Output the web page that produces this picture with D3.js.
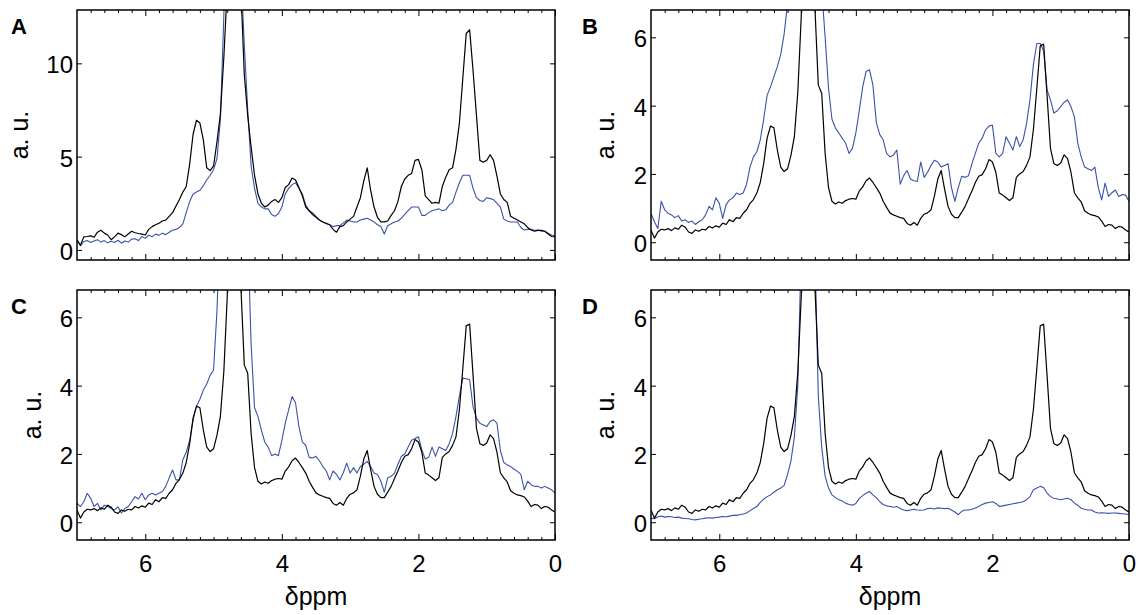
<!DOCTYPE html>
<html>
<head>
<meta charset="utf-8">
<script src="https://cdn.jsdelivr.net/npm/d3@7"></script>
<style>
body { margin: 0; background: #fff; }
text { font-family: "Liberation Sans", Arial, sans-serif; }
</style>
</head>
<body>
<script>
// chemical shift grid (ppm), shared by every trace
var ppm = [
  7.00,6.95,6.90,6.85,6.80,6.75,6.70,6.65,6.60,6.55,
  6.50,6.45,6.40,6.35,6.30,6.25,6.20,6.15,6.10,6.05,
  6.00,5.95,5.90,5.85,5.80,5.75,5.70,5.65,5.60,5.55,
  5.50,5.45,5.40,5.35,5.30,5.25,5.20,5.15,5.10,5.05,
  5.00,4.95,4.90,4.85,4.80,4.75,4.70,4.65,4.60,4.55,
  4.50,4.45,4.40,4.35,4.30,4.25,4.20,4.15,4.10,4.05,
  4.00,3.95,3.90,3.85,3.80,3.75,3.70,3.65,3.60,3.55,
  3.50,3.45,3.40,3.35,3.30,3.25,3.20,3.15,3.10,3.05,
  3.00,2.95,2.90,2.85,2.80,2.75,2.70,2.65,2.60,2.55,
  2.50,2.45,2.40,2.35,2.30,2.25,2.20,2.15,2.10,2.05,
  2.00,1.95,1.90,1.85,1.80,1.75,1.70,1.65,1.60,1.55,
  1.50,1.45,1.40,1.35,1.30,1.25,1.20,1.15,1.10,1.05,
  1.00,0.95,0.90,0.85,0.80,0.75,0.70,0.65,0.60,0.55,
  0.50,0.45,0.40,0.35,0.30,0.25,0.20,0.15,0.10,0.05,
  0.00
];

// panel A, black trace
var blackA = [
  0.54,0.25,0.70,0.72,0.75,0.68,0.95,1.05,0.90,0.80,
  0.55,0.70,0.90,0.82,0.70,0.85,1.00,0.92,0.88,0.85,
  0.80,1.10,1.25,1.35,1.43,1.55,1.60,1.80,2.00,2.35,
  2.70,3.10,3.40,4.60,6.20,6.95,6.80,5.90,4.40,4.25,
  4.50,5.80,7.30,10.3,14,25,40,25,14,9.4,
  7.20,5.50,4.00,3.00,2.50,2.30,2.40,2.60,2.70,2.55,
  2.80,3.35,3.50,3.85,3.75,3.35,2.90,2.30,2.10,1.90,
  1.75,1.60,1.50,1.43,1.35,1.10,0.95,1.25,1.30,1.50,
  1.65,1.80,2.30,2.80,3.70,4.40,3.20,2.30,1.75,1.50,
  1.50,1.55,1.85,2.10,2.60,3.40,3.80,4.00,4.10,4.80,
  4.85,4.30,2.90,2.70,2.50,2.55,2.50,3.40,3.90,4.30,
  4.40,5.40,6.80,9.20,11.6,11.8,9.60,7.20,4.80,4.70,
  4.80,5.10,4.80,3.95,3.00,2.70,2.55,1.80,1.70,1.60,
  1.50,1.40,1.20,1.07,1.00,1.05,1.05,1.00,0.85,0.72,
  0.70
];

// panel A, blue trace
var blueA = [
  0.54,0.22,0.45,0.50,0.40,0.48,0.55,0.42,0.50,0.38,
  0.46,0.40,0.52,0.36,0.48,0.42,0.58,0.60,0.50,0.72,
  0.62,0.80,0.70,0.85,0.78,0.90,0.82,0.95,1.05,1.10,
  1.20,1.40,2.00,2.60,3.00,3.10,3.20,3.45,3.75,4.00,
  4.30,4.90,7.00,12.5,20,30,40,25,15,11,
  7.50,4.50,3.30,2.50,2.30,2.20,2.20,1.90,1.80,1.95,
  2.30,3.00,3.30,3.50,3.60,3.30,3.00,2.40,2.10,2.00,
  1.80,1.60,1.50,1.40,1.35,1.25,1.30,1.30,1.45,1.60,
  1.55,1.50,1.50,1.60,1.65,1.70,1.60,1.50,1.35,1.25,
  0.85,1.30,1.40,1.50,1.55,1.70,1.90,2.10,2.30,2.30,
  2.30,1.85,1.85,2.00,2.10,2.15,2.20,2.10,2.15,2.40,
  2.55,3.10,3.60,4.00,4.00,4.00,3.30,2.80,2.65,2.60,
  2.80,2.75,2.70,2.50,2.30,1.65,1.55,1.50,1.50,1.50,
  1.20,1.07,1.10,1.10,1.05,1.07,1.00,1.00,0.90,0.80,
  0.75
];

// black reference trace, the same in panels B, C and D
var blackRef = [
  0.36,0.12,0.30,0.38,0.36,0.40,0.34,0.42,0.38,0.50,
  0.44,0.30,0.26,0.36,0.32,0.38,0.36,0.46,0.42,0.48,
  0.44,0.56,0.52,0.66,0.60,0.72,0.70,0.85,0.95,1.14,
  1.25,1.44,1.75,2.30,3.05,3.40,3.35,2.70,2.20,2.07,
  2.15,2.55,3.10,4.40,6.60,12,20,12,6.9,4.6,
  4.36,2.60,1.60,1.20,1.12,1.18,1.14,1.22,1.26,1.28,
  1.26,1.50,1.62,1.80,1.88,1.75,1.60,1.44,1.20,1.02,
  0.86,0.80,0.76,0.72,0.70,0.55,0.50,0.58,0.50,0.70,
  0.82,0.86,0.95,1.35,1.85,2.10,1.55,1.05,0.82,0.72,
  0.72,0.88,1.05,1.28,1.50,1.75,1.93,1.98,2.15,2.42,
  2.35,2.05,1.44,1.38,1.30,1.22,1.30,1.90,2.00,2.07,
  2.25,2.50,3.30,4.50,5.75,5.80,4.30,2.75,2.30,2.25,
  2.32,2.56,2.45,2.05,1.45,1.30,1.18,0.92,0.85,0.80,
  0.78,0.74,0.62,0.46,0.52,0.50,0.40,0.46,0.44,0.36,
  0.30
];

// panel B, blue trace
var blueB = [
  0.85,0.60,0.40,1.20,0.95,0.85,0.80,0.72,0.78,0.62,
  0.66,0.58,0.62,0.52,0.60,0.66,0.80,1.05,0.95,1.30,
  1.14,0.70,1.10,1.24,1.30,1.44,1.40,1.44,1.70,2.20,
  2.50,2.65,3.00,3.60,4.30,4.55,4.85,5.14,5.50,6.10,
  7.00,10,15,20,30,40,30,20,12,9,
  7.40,6.00,4.50,3.60,3.35,3.20,3.05,2.90,2.60,2.75,
  3.20,3.85,4.55,5.00,5.05,4.60,3.50,3.15,3.00,2.60,
  2.50,2.55,2.70,1.70,1.95,2.10,1.85,1.80,1.78,2.35,
  1.90,2.05,2.25,2.40,2.35,2.20,2.25,2.30,1.60,1.20,
  1.60,1.93,1.90,1.95,2.30,2.60,2.90,3.05,3.29,3.40,
  3.43,2.60,2.50,2.60,3.09,2.90,2.70,3.09,2.80,3.00,
  3.48,4.17,5.20,5.82,5.82,5.60,4.46,4.17,3.78,3.85,
  3.97,4.10,4.17,3.97,3.68,2.90,2.50,2.20,2.15,2.10,
  2.20,1.60,1.24,1.73,1.34,1.45,1.53,1.34,1.40,1.38,
  1.20
];

// panel C, blue trace
var blueC = [
  0.56,0.46,0.60,0.85,0.70,0.46,0.55,0.36,0.50,0.46,
  0.40,0.36,0.45,0.27,0.40,0.46,0.60,0.75,0.68,0.85,
  0.66,0.80,0.85,0.80,0.85,0.90,1.05,1.30,1.53,1.24,
  1.24,1.83,2.05,2.40,3.00,3.40,3.60,3.87,4.05,4.30,
  4.46,6.20,9,15,25,40,30,20,15,10,
  8.50,5.20,3.35,3.10,2.70,2.35,2.20,1.95,2.00,1.95,
  2.40,2.90,3.30,3.68,3.50,2.80,2.35,2.25,1.90,1.88,
  1.93,1.80,1.63,1.50,1.24,1.50,1.40,1.24,1.45,1.73,
  1.44,1.60,1.44,1.63,1.70,1.78,1.63,1.44,1.40,1.20,
  0.88,1.30,1.34,1.44,1.70,1.93,2.00,2.20,2.40,2.45,
  2.50,2.12,1.85,1.90,2.20,1.93,2.20,2.15,2.10,2.30,
  2.60,3.10,3.70,4.22,4.20,4.17,3.38,3.05,2.90,2.85,
  2.80,2.95,3.00,2.90,2.10,1.75,1.68,1.63,1.55,1.49,
  1.40,0.95,1.20,1.10,1.05,1.05,1.00,1.05,1.00,0.95,
  0.85
];

// panel D, blue trace
var blueD = [
  0.12,0.10,0.16,0.18,0.15,0.17,0.16,0.14,0.15,0.12,
  0.11,0.10,0.08,0.07,0.09,0.10,0.12,0.13,0.12,0.14,
  0.15,0.17,0.16,0.18,0.20,0.20,0.22,0.24,0.27,0.34,
  0.40,0.46,0.58,0.68,0.75,0.80,0.88,0.95,1.00,1.08,
  1.40,1.80,2.50,4.00,8,20,40,20,8,3.7,
  2.20,1.35,1.00,0.80,0.72,0.66,0.62,0.56,0.52,0.50,
  0.55,0.70,0.78,0.85,0.90,0.80,0.72,0.60,0.52,0.48,
  0.46,0.44,0.46,0.40,0.36,0.34,0.36,0.38,0.36,0.35,
  0.36,0.40,0.41,0.39,0.42,0.41,0.40,0.41,0.36,0.30,
  0.22,0.32,0.36,0.36,0.38,0.42,0.46,0.52,0.56,0.58,
  0.60,0.55,0.46,0.48,0.50,0.52,0.54,0.56,0.58,0.60,
  0.66,0.75,0.95,1.00,1.05,1.02,0.85,0.75,0.70,0.68,
  0.66,0.68,0.70,0.66,0.56,0.50,0.41,0.38,0.36,0.36,
  0.30,0.27,0.28,0.27,0.26,0.27,0.27,0.26,0.25,0.24,
  0.22
];

var xMajorTicks = [6, 4, 2, 0];
var yTicksA = [0, 5, 10];
var yTicksBCD = [0, 2, 4, 6];

var blueColor = "#3a52a8";

var svg = d3.select(document.body).append("svg")
  .attr("width", 1141)
  .attr("height", 615);

var panels = [
  {id: "A", left: 77, right: 555, top: 10, bottom: 260, yDomain: [-0.54, 12.86], yTicks: yTicksA,
   black: blackA, blue: blueA, labelX: 28, letterX: 11, xLabels: false},
  {id: "B", left: 651, right: 1129, top: 10, bottom: 260, yDomain: [-0.52, 6.8], yTicks: yTicksBCD,
   black: blackRef, blue: blueB, labelX: 614, letterX: 582, xLabels: false},
  {id: "C", left: 77, right: 555, top: 290, bottom: 540, yDomain: [-0.52, 6.8], yTicks: yTicksBCD,
   black: blackRef, blue: blueC, labelX: 41, letterX: 11, xLabels: true},
  {id: "D", left: 651, right: 1129, top: 290, bottom: 540, yDomain: [-0.52, 6.8], yTicks: yTicksBCD,
   black: blackRef, blue: blueD, labelX: 614, letterX: 582, xLabels: true}
];

// minor x ticks every 0.2 ppm, skipping the labelled even values
var xMinorTicks = d3.range(1, 35).map(function(k) { return k * 0.2; })
  .filter(function(v) { return Math.abs(v / 2 - Math.round(v / 2)) > 0.01; });

function styleAxis(g) {
  g.select(".domain").remove();
  g.selectAll("line").attr("stroke", "#000").attr("stroke-width", 1);
  g.attr("font-size", 24).attr("font-family", "\"Liberation Sans\", Arial, sans-serif");
}

panels.forEach(function(p) {
  var x = d3.scaleLinear().domain([7, 0]).range([p.left, p.right]);
  var y = d3.scaleLinear().domain(p.yDomain).range([p.bottom, p.top]);
  var g = svg.append("g");

  g.append("clipPath").attr("id", "clip" + p.id)
    .append("rect")
    .attr("x", p.left).attr("y", p.top)
    .attr("width", p.right - p.left).attr("height", p.bottom - p.top);

  var line = d3.line()
    .x(function(d, k) { return x(ppm[k]); })
    .y(function(d) { return y(d); });

  g.append("path")
    .datum(p.blue)
    .attr("d", line)
    .attr("fill", "none")
    .attr("stroke", blueColor)
    .attr("stroke-width", 1.1)
    .attr("stroke-linejoin", "round")
    .attr("clip-path", "url(#clip" + p.id + ")");

  g.append("path")
    .datum(p.black)
    .attr("d", line)
    .attr("fill", "none")
    .attr("stroke", "#000")
    .attr("stroke-width", 1.2)
    .attr("stroke-linejoin", "round")
    .attr("clip-path", "url(#clip" + p.id + ")");

  // x axes, ticks pointing inward
  g.append("g").attr("transform", "translate(0," + p.bottom + ")")
    .call(d3.axisBottom(x).tickValues(xMajorTicks).tickSizeInner(-6).tickSizeOuter(0)
      .tickPadding(15).tickFormat(p.xLabels ? d3.format("d") : ""))
    .call(styleAxis);
  g.append("g").attr("transform", "translate(0," + p.bottom + ")")
    .call(d3.axisBottom(x).tickValues(xMinorTicks).tickSizeInner(-3).tickSizeOuter(0).tickFormat(""))
    .call(styleAxis);
  g.append("g").attr("transform", "translate(0," + p.top + ")")
    .call(d3.axisTop(x).tickValues(xMajorTicks).tickSizeInner(-6).tickSizeOuter(0).tickFormat(""))
    .call(styleAxis);
  g.append("g").attr("transform", "translate(0," + p.top + ")")
    .call(d3.axisTop(x).tickValues(xMinorTicks).tickSizeInner(-3).tickSizeOuter(0).tickFormat(""))
    .call(styleAxis);

  // y axes
  var yl = g.append("g").attr("transform", "translate(" + p.left + ",0)")
    .call(d3.axisLeft(y).tickValues(p.yTicks).tickSizeInner(-5).tickSizeOuter(0).tickPadding(4))
    .call(styleAxis);
  yl.selectAll("text").attr("dy", "0.4em");
  g.append("g").attr("transform", "translate(" + p.right + ",0)")
    .call(d3.axisRight(y).tickValues(p.yTicks).tickSizeInner(-5).tickSizeOuter(0).tickFormat(""))
    .call(styleAxis);

  // frame
  g.append("rect")
    .attr("x", p.left).attr("y", p.top)
    .attr("width", p.right - p.left).attr("height", p.bottom - p.top)
    .attr("fill", "none")
    .attr("stroke", "#000")
    .attr("stroke-width", 1.5);

  g.append("text")
    .attr("transform", "translate(" + p.labelX + "," + ((p.top + p.bottom) / 2) + ") rotate(-90)")
    .attr("text-anchor", "middle")
    .attr("font-size", 25)
    .text("a. u.");

  if (p.xLabels) {
    g.append("text")
      .attr("x", (p.left + p.right) / 2)
      .attr("y", 605)
      .attr("text-anchor", "middle")
      .attr("font-size", 25)
      .text("δppm");
  }

  g.append("text")
    .attr("x", p.letterX)
    .attr("y", p.top + 24)
    .attr("font-size", 22)
    .attr("font-weight", "bold")
    .text(p.id);
});
</script>
</body>
</html>
